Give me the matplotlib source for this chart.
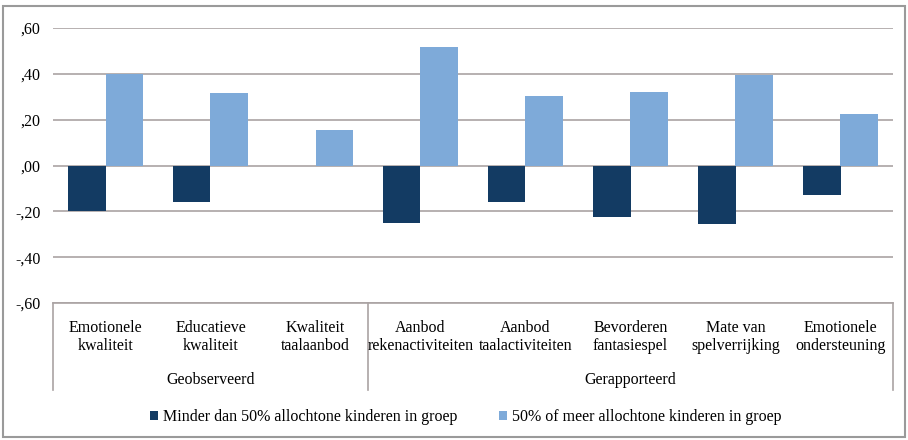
import matplotlib
matplotlib.use("Agg")
import matplotlib.pyplot as plt
import matplotlib.transforms as mtransforms
from matplotlib.patches import Rectangle
import numpy as np

plt.rcParams['font.family'] = ['Liberation Serif', 'DejaVu Serif']

categories = ["Emotionele\nkwaliteit", "Educatieve\nkwaliteit", "Kwaliteit\ntaalaanbod",
              "Aanbod\nrekenactiviteiten", "Aanbod\ntaalactiviteiten", "Bevorderen\nfantasiespel",
              "Mate van\nspelverrijking", "Emotionele\nondersteuning"]
groups = ["Geobserveerd", "Gerapporteerd"]
group_sizes = [3, 5]
minder = [-0.20, -0.16, 0.0, -0.25, -0.16, -0.225, -0.255, -0.13]
meer = [0.40, 0.315, 0.155, 0.515, 0.305, 0.32, 0.395, 0.225]
series_names = ["Minder dan 50% allochtone kinderen in groep",
                "50% of meer allochtone kinderen in groep"]
yticks = [-0.6, -0.4, -0.2, 0.0, 0.2, 0.4, 0.6]

dark = "#133b63"
light = "#7eaad9"
grid_c = "#aaa3a3"
fs = 11.5

fig = plt.figure(figsize=(9.08, 4.40), dpi=100)
ax = fig.add_axes([53/908, 137/440, 840/908, 275/440])

x = np.arange(len(categories))
w = 0.36
ax.bar(x - w/2, minder, w, color=dark, label=series_names[0], zorder=3)
ax.bar(x + w/2, meer, w, color=light, label=series_names[1], zorder=3)

ax.set_xlim(-0.5, len(categories) - 0.5)
ax.set_ylim(-0.6, 0.6)
ax.set_yticks(yticks)
ax.set_yticklabels([("-" if v < 0 else "") + ("%.2f" % abs(v))[1:].replace(".", ",") for v in yticks],
                   fontsize=fs)
ax.tick_params(axis='y', length=0, pad=9)
ax.tick_params(axis='x', length=0, labelbottom=False)
for s in ax.spines.values():
    s.set_visible(False)
ax.yaxis.grid(True, color=grid_c, linewidth=1.2, zorder=0)

# category axis box
tr = mtransforms.blended_transform_factory(ax.transData, ax.transAxes)
box_bottom = -0.316
ax.plot([-0.5, len(categories) - 0.5], [0, 0], transform=tr, color=grid_c, lw=1.2, clip_on=False)
edges = np.concatenate([[0], np.cumsum(group_sizes)]) - 0.5
for e in edges:
    ax.plot([e, e], [0, box_bottom], transform=tr, color=grid_c, lw=1.2, clip_on=False)
for xi, lab in zip(x, categories):
    ax.text(xi, -0.123, lab, transform=tr, ha='center', va='center', fontsize=fs,
            linespacing=1.2)
for i, g in enumerate(groups):
    ax.text((edges[i] + edges[i + 1]) / 2, -0.28, g, transform=tr, ha='center', va='center',
            fontsize=fs)

leg = fig.legend(loc='center', bbox_to_anchor=(0.513, 0.052), ncol=2, frameon=False,
                 fontsize=fs, handlelength=0.5, handleheight=0.5, handletextpad=0.3,
                 columnspacing=2.6)

fig.add_artist(Rectangle((3/908, 3/440), 902/908, 431/440, transform=fig.transFigure,
                         fill=False, edgecolor="#9a9a9a", lw=1.5))

fig.savefig("out.png", dpi=100)
